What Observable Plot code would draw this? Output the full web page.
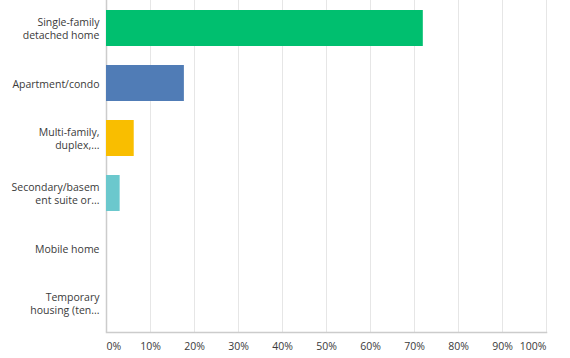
<!DOCTYPE html>
<html>
<head>
<meta charset="utf-8">
<script src="https://cdn.jsdelivr.net/npm/d3@7"></script>
<script src="https://cdn.jsdelivr.net/npm/@observablehq/plot@0.6"></script>
<style>
  html, body { margin: 0; padding: 0; background: #fff; }
  #chart { width: 570px; height: 358px; }
</style>
</head>
<body>
<div id="chart"></div>
<script>
const categories = [
  "Single-family\ndetached home",
  "Apartment/condo",
  "Multi-family,\nduplex,...",
  "Secondary/basem\nent suite or...",
  "Mobile home",
  "Temporary\nhousing (ten..."
];
const values = [72.0, 17.7, 6.3, 3.1, 0, 0];
const colors = ["#00bf6f", "#507cb6", "#f9be00", "#6bc8cd", "#a5a5a5", "#a5a5a5"];
const xTicks = [0, 10, 20, 30, 40, 50, 60, 70, 80, 90, 100];

const data = categories.map((c, i) => ({category: c, value: values[i], color: colors[i]}));
const textColor = "#3a3a3a";
const fmt = d => d + "%";
const fs = 10.5;

const chart = Plot.plot({
  width: 570,
  height: 358,
  marginLeft: 106,
  marginRight: 24,
  marginTop: 0,
  marginBottom: 26,
  style: {fontFamily: "'Open Sans', sans-serif", fontSize: fs + "px", color: textColor, background: "#fff"},
  x: {domain: [0, 100], axis: null},
  y: {domain: categories, paddingInner: 0.34, paddingOuter: 0.17, axis: null},
  marks: [
    Plot.ruleX(xTicks.filter(d => d > 0), {stroke: "#e6e6e6", strokeWidth: 1}),
    Plot.ruleX([0], {stroke: "#cccccc", strokeWidth: 1.5}),
    Plot.frame({anchor: "bottom", stroke: "#cccccc", strokeWidth: 1.5}),
    Plot.barX(data, {y: "category", x: "value", fill: "color"}),
    Plot.axisY({label: null, tickSize: 0, tickPadding: 7, fill: textColor, fontSize: fs, lineHeight: 1.22, textAnchor: "end"}),
    Plot.axisX({label: null, ticks: xTicks.filter(d => d > 0 && d < 100), tickSize: 0, tickPadding: 10, tickFormat: fmt, fill: textColor, fontSize: fs}),
    Plot.axisX({label: null, ticks: [0], tickSize: 0, tickPadding: 10, tickFormat: fmt, fill: textColor, fontSize: fs, textAnchor: "start"}),
    Plot.axisX({label: null, ticks: [100], tickSize: 0, tickPadding: 10, tickFormat: fmt, fill: textColor, fontSize: fs, textAnchor: "end"})
  ]
});
document.getElementById("chart").appendChild(chart);
</script>
</body>
</html>
